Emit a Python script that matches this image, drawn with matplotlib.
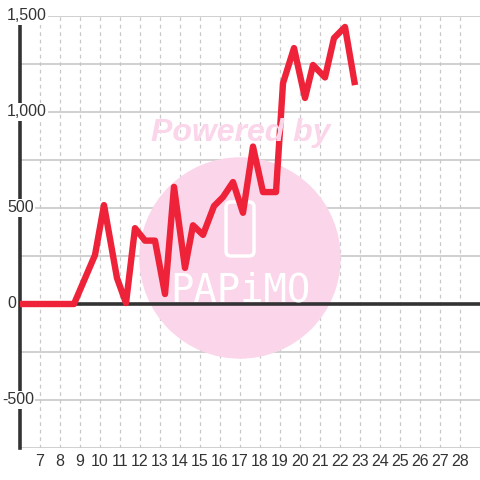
import matplotlib
matplotlib.use('Agg')
import matplotlib.pyplot as plt
import matplotlib.patches as patches
from matplotlib.transforms import blended_transform_factory

# 日付（日単位、半日刻みに近い）と値
days = [6.0, 8.7, 9.75, 10.2, 10.85, 11.3, 11.75, 12.25, 12.75, 13.25, 13.7,
        14.25, 14.65, 15.15, 15.7, 16.15, 16.65, 17.15, 17.65, 18.15, 18.8,
        19.15, 19.7, 20.25, 20.65, 21.25, 21.7, 22.25, 22.75]
values = [0, 0, 255, 515, 135, 5, 395, 330, 330, 52, 610,
          188, 410, 360, 510, 557, 635, 475, 820, 583, 583,
          1150, 1333, 1073, 1245, 1180, 1385, 1443, 1140]

x_ticks = list(range(7, 29))
y_grid = [-750, -500, -250, 0, 250, 500, 750, 1000, 1250, 1500]
y_labels = {1500: '1,500', 1000: '1,000', 500: '500', 0: '0', -500: '-500'}

plt.rcParams['font.family'] = ['Liberation Sans', 'DejaVu Sans']

fig = plt.figure(figsize=(4.8, 4.8), dpi=100)
ax = fig.add_axes([20 / 480, 32 / 480, 460 / 480, 432 / 480])
ax.set_xlim(6, 29)
ax.set_ylim(-750, 1500)

# グリッド
for y in y_grid:
    ax.axhline(y, color='#c8c8c8', lw=1.2, zorder=1)
for x in x_ticks:
    ax.axvline(x, color='#c8c8c8', lw=0.9, ls=(0, (3, 3)), zorder=1)

# 透かし
circ = patches.Circle((240 / 480, 1 - 258 / 480), 100 / 480, transform=fig.transFigure,
                      color='#fbd5ea', zorder=2)
ax.add_patch(circ)
fig.text(241 / 480, 1 - 133 / 480, 'Powered by', color='#fbd5ea', fontsize=23,
         fontweight='bold', style='italic', ha='center', va='center', zorder=2)
rect = patches.FancyBboxPatch((226 / 480, 1 - 256 / 480), 28 / 480, 54 / 480,
                              boxstyle='round,pad=0,rounding_size=0.01',
                              transform=fig.transFigure, fill=False,
                              ec='white', lw=2.5, zorder=2)
ax.add_patch(rect)
fig.text(240 / 480, 1 - 290 / 480, 'PAPiMO', color='white', fontsize=28,
         family='DejaVu Sans Mono', ha='center', va='center', zorder=2)

ax.axhline(0, color='#333333', lw=2.6, zorder=3)
ax.plot(days, values, color='#ee2238', lw=4.6, solid_joinstyle='round',
        solid_capstyle='butt', zorder=4)

for s in ['top', 'right', 'bottom']:
    ax.spines[s].set_visible(False)
ax.spines['left'].set_color('#333333')
ax.spines['left'].set_linewidth(2.6)
ax.spines['left'].set_bounds(-750, 1458)
ax.set_xticks([])
ax.set_yticks([])

tr = blended_transform_factory(fig.transFigure, ax.transData)
for v, lab in y_labels.items():
    x0 = 2 / 480 if lab.startswith('-') else 7 / 480
    t = fig.text(x0, v, lab, transform=tr, ha='left', va='center',
                 fontsize=11.5, color='#333333', zorder=10)
    t.set_bbox(dict(facecolor='white', edgecolor='none', pad=1))

trx = blended_transform_factory(ax.transData, fig.transFigure)
for x in x_ticks:
    fig.text(x, 1 - 462 / 480, str(x), transform=trx, ha='center', va='center',
             fontsize=11.5, color='#333333')

fig.savefig('out.png', dpi=100)
